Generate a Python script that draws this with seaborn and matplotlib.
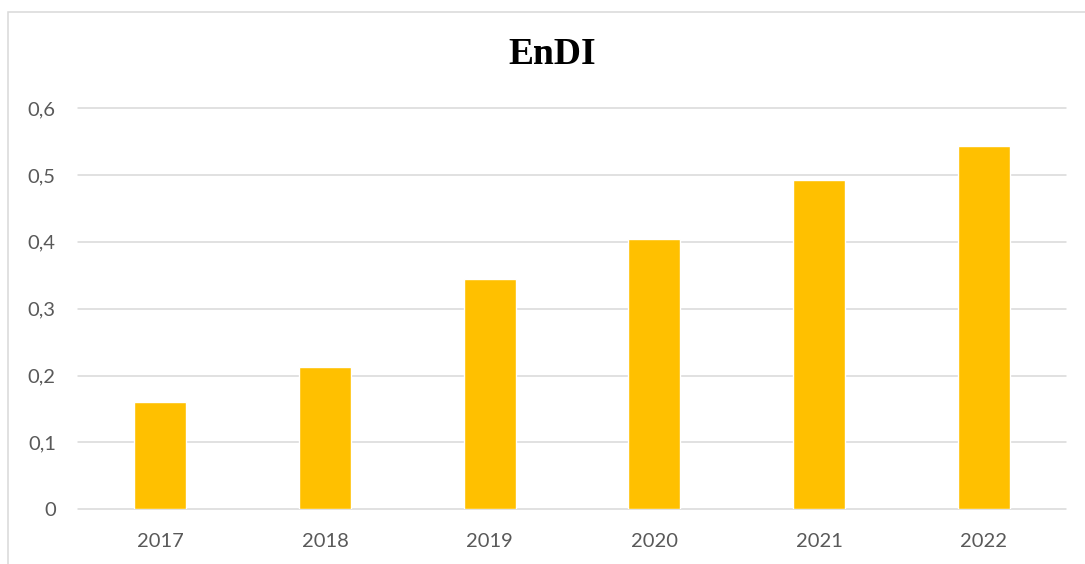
import matplotlib
matplotlib.use("Agg")
import matplotlib.pyplot as plt
from matplotlib.patches import Rectangle
from matplotlib.ticker import FuncFormatter
import pandas as pd
import seaborn as sns

years = ["2017", "2018", "2019", "2020", "2021", "2022"]
endi = [0.161, 0.213, 0.345, 0.404, 0.492, 0.543]
y_ticks = [0.0, 0.1, 0.2, 0.3, 0.4, 0.5, 0.6]

sns.set_theme(style="white")
plt.rcParams["font.family"] = ["Lato", "DejaVu Sans"]

W, H = 1085, 564
fig = plt.figure(figsize=(W / 100, H / 100), dpi=100)
ax = fig.add_axes([78 / W, 1 - 509.3 / H, (1066 - 78) / W, (509.3 - 108) / H])

df = pd.DataFrame({"year": years, "EnDI": endi})
sns.barplot(data=df, x="year", y="EnDI", color="#FFC000", saturation=1,
            width=0.316, ax=ax, zorder=3)

ax.set_ylim(0, 0.6)
ax.set_yticks(y_ticks)
ax.yaxis.set_major_formatter(FuncFormatter(
    lambda v, _: "0" if abs(v) < 1e-9 else f"{v:.1f}".replace(".", ",")))
ax.set_xlabel("")
ax.set_ylabel("")
for s in ax.spines.values():
    s.set_visible(False)
ax.grid(axis="y", color="#D9D9D9", linewidth=1.1, zorder=0)
for gl in ax.get_ygridlines():
    gl.set_clip_on(False)
ax.set_axisbelow(True)
ax.tick_params(axis="both", length=0, labelsize=14.5, labelcolor="#595959")
ax.tick_params(axis="y", pad=16)
ax.tick_params(axis="x", pad=17)

fig.text(552 / W, 1 - 55 / H, "EnDI", ha="center", va="center",
         fontsize=27, fontweight="bold", family=["Liberation Serif", "DejaVu Serif"],
         color="black")

# chart frame
fig.add_artist(Rectangle((8 / W, -0.2), 2, 1 - 12 / H + 0.2,
                         transform=fig.transFigure, fill=False,
                         edgecolor="#D9D9D9", linewidth=1.1))

fig.savefig("out.png", dpi=100, facecolor="white")
